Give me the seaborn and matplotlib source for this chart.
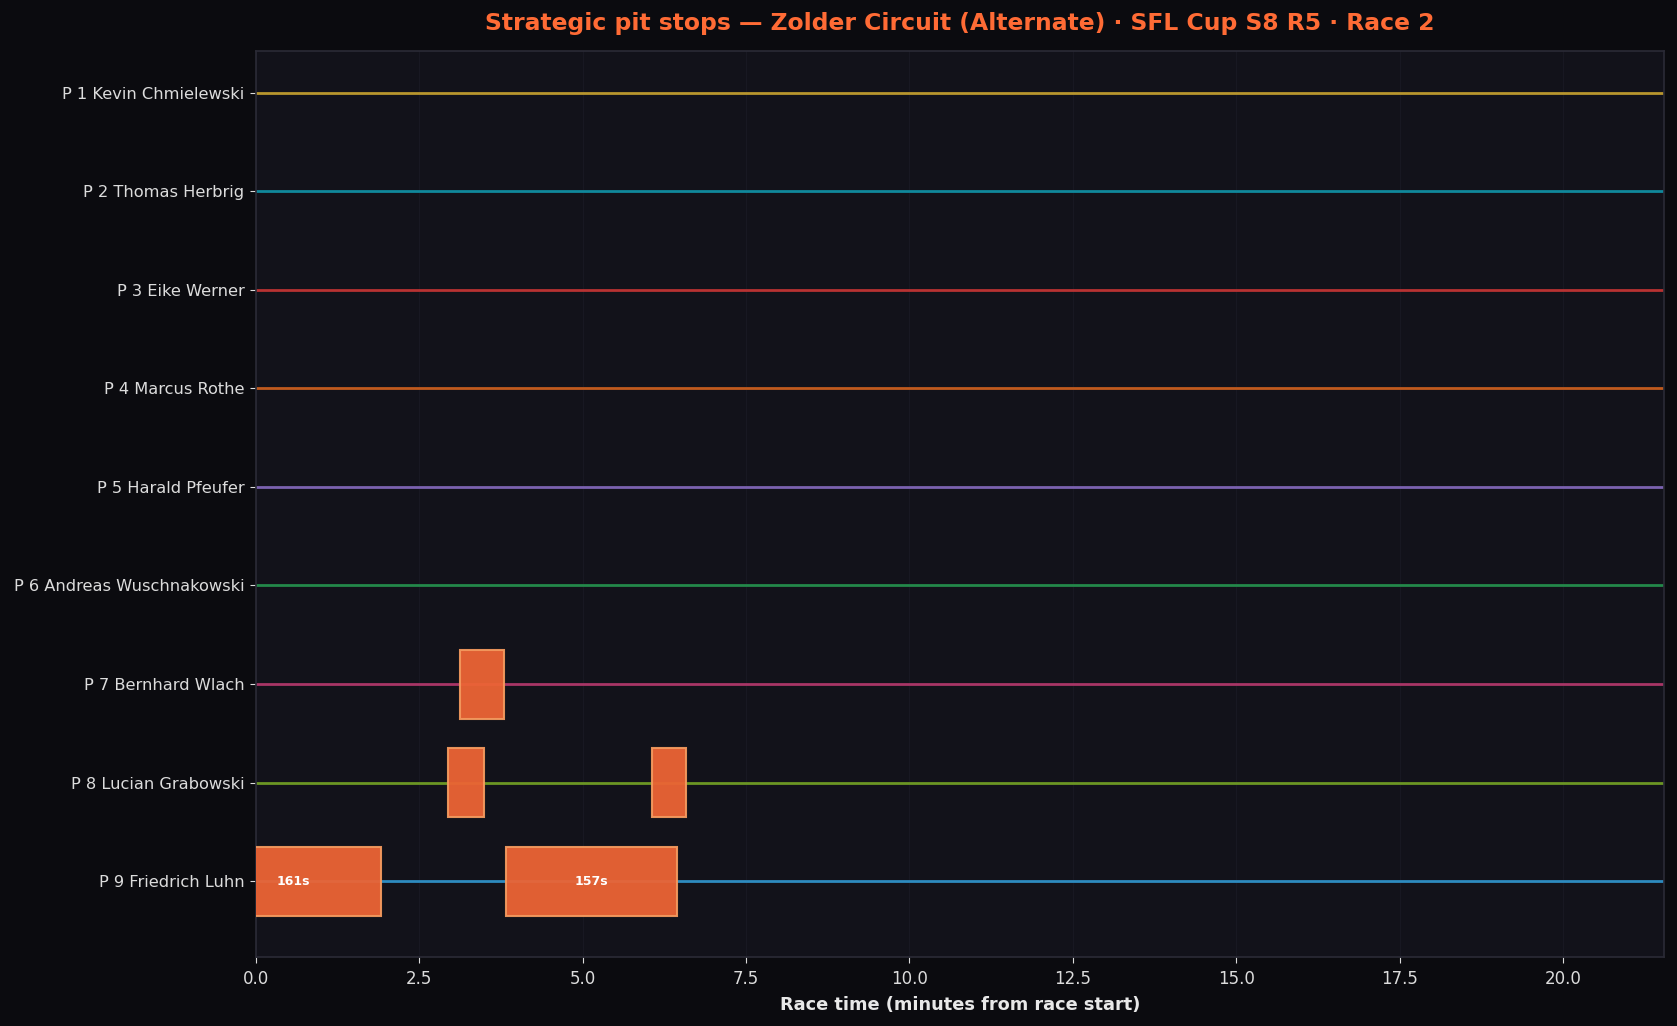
import numpy as np
import matplotlib
matplotlib.use('Agg')

import matplotlib.pyplot as plt
import seaborn as sns
import pandas as pd

# Fahrer und Farben
drivers = ["P 1 Kevin Chmielewski", "P 2 Thomas Herbrig", "P 3 Eike Werner",
           "P 4 Marcus Rothe", "P 5 Harald Pfeufer", "P 6 Andreas Wuschnakowski",
           "P 7 Bernhard Wlach", "P 8 Lucian Grabowski", "P 9 Friedrich Luhn"]
line_colors = ["#b8962e", "#10889c", "#b83232", "#c05a1e", "#7b62b0",
               "#23884a", "#a83566", "#6b9624", "#2d8bbf"]
race_end = 21.54  # Minuten

# Boxenstopps: Fahrer-Index, Start (min), Dauer (s)
stop_driver = [6, 7, 7, 8, 8]
stop_start = [3.12, 2.95, 6.07, -0.763, 3.83]
stop_dur = [41, 33, 31, 161, 157]

bg_fig = "#0b0b0f"
bg_ax = "#12121a"
text_col = "#dcdcdc"

sns.set_theme(style="dark", rc={
    "figure.facecolor": bg_fig,
    "axes.facecolor": bg_ax,
    "axes.edgecolor": "#2a2a35",
    "xtick.color": text_col,
    "ytick.color": text_col,
    "text.color": text_col,
    "axes.labelcolor": text_col,
})
plt.rcParams['font.family'] = ['DejaVu Sans']

fig, ax = plt.subplots(figsize=(16.77, 10.26), dpi=100)
fig.subplots_adjust(left=0.1524, right=0.9923, top=0.95, bottom=0.0672)

# Linien je Fahrer
lines_df = pd.DataFrame({
    "driver": np.repeat(drivers, 2),
    "x": [0, race_end] * len(drivers),
    "y": np.repeat(np.arange(len(drivers)), 2),
})
sns.lineplot(data=lines_df, x="x", y="y", hue="driver", palette=line_colors,
             linewidth=2, legend=False, ax=ax, estimator=None, sort=False)

# Stopps als Balken
for d, s, dur in zip(stop_driver, stop_start, stop_dur):
    w = dur / 60
    ax.barh(d, w, left=s, height=0.7, color="#ec6435", alpha=0.95,
            edgecolor="#f2995e", linewidth=1.5, zorder=3)
    if dur > 60:
        ax.text(s + w / 2, d, f"{dur}s", ha="center", va="center",
                color="white", fontsize=9, fontweight="bold", zorder=4)

ax.set_yticks(range(len(drivers)))
ax.set_yticklabels(drivers, fontsize=11.7)
ax.set_xlim(0, race_end)
ax.set_ylim(8.77, -0.42)
ax.tick_params(axis="x", labelsize=12, length=4, width=0.8, bottom=True, pad=5)
ax.tick_params(axis="y", length=4, width=0.8, left=True, pad=4)
ax.xaxis.grid(True, color="#181822", linewidth=0.8)
ax.yaxis.grid(False)
ax.set_axisbelow(True)
for sp in ax.spines.values():
    sp.set_color("#2a2a35")

ax.set_xlabel("Race time (minutes from race start)", fontsize=12.8,
              fontweight="bold", color="#e8e8e8", labelpad=6)
ax.set_ylabel("")
ax.set_title("Strategic pit stops — Zolder Circuit (Alternate) · SFL Cup S8 R5 · Race 2",
             fontsize=16.9, fontweight="bold", color="#ff6b35", pad=15)

fig.savefig("out.png", dpi=100, facecolor=bg_fig)
